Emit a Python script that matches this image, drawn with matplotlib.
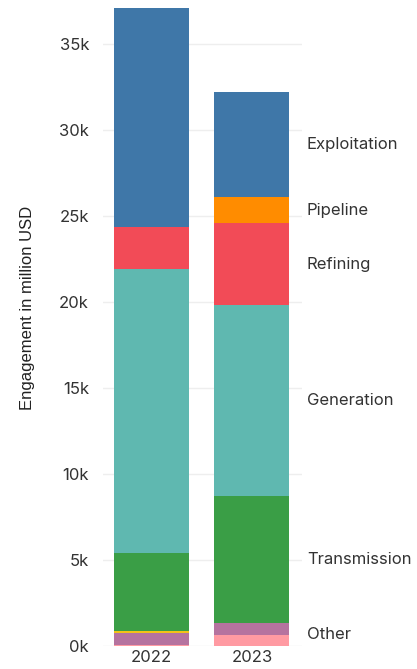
import numpy as np
import matplotlib.pyplot as plt
from matplotlib.ticker import FuncFormatter
import matplotlib.transforms as mtransforms

years = ["2022", "2023"]

# stacked bottom to top, values in million USD
segments = ["Other A", "Other B", "Other C", "Transmission",
            "Generation", "Refining", "Pipeline", "Exploitation"]
values_2022 = [50, 690, 150, 4500, 16500, 2440, 0, 12720]
values_2023 = [660, 700, 0, 7360, 11090, 4750, 1510, 6100]
colors = ["#ff9aa2", "#b5739f", "#f2c318", "#3a9e46",
          "#5fb8b0", "#f24b57", "#ff8c00", "#3f77a8"]

# names written next to the 2023 bar
side_labels = ["Exploitation", "Pipeline", "Refining", "Generation",
               "Transmission", "Other"]
other_group = ["Other A", "Other B", "Other C"]

data = np.array([values_2022, values_2023], dtype=float)

fig = plt.figure(figsize=(4.17, 6.69), dpi=100)
ax = fig.add_axes([0.247, 0.0344, 0.477, 0.9656])

x = np.arange(len(years))
bottom = np.zeros(len(years))
for i, name in enumerate(segments):
    ax.bar(x, data[:, i], bottom=bottom, width=0.746, color=colors[i],
           linewidth=0, zorder=2)
    bottom += data[:, i]

ax.set_xlim(-0.483, 1.4975)
ax.set_ylim(0, 37540)
ax.set_yticks(np.arange(0, 35001, 5000))
ax.yaxis.set_major_formatter(FuncFormatter(lambda v, p: f"{int(v/1000)}k"))
ax.set_xticks(x)
ax.set_xticklabels(years)

ax.grid(axis="y", color="#eeeeee", linewidth=1, zorder=0)
ax.tick_params(length=0, labelsize=12, labelcolor="#333333")
ax.tick_params(axis="y", pad=10)
ax.tick_params(axis="x", pad=3)
for lab in ax.get_xticklabels() + ax.get_yticklabels():
    lab.set_fontfamily("Inter")
for s in ax.spines.values():
    s.set_visible(False)

ax.set_ylabel("Engagement in million USD", fontsize=12,
              fontfamily="Liberation Sans", color="#222222")
ax.yaxis.set_label_coords(-0.342, 0.523)

# side labels at the middle of each 2023 segment
trans = mtransforms.blended_transform_factory(ax.transAxes, ax.transData)
cum = np.concatenate([[0], np.cumsum(data[1])])
mids = {}
for i, name in enumerate(segments):
    mids[name] = (cum[i] + cum[i + 1]) / 2
n_other = len(other_group)
mids["Other"] = cum[n_other] / 2
for name in side_labels:
    ax.text(1.025, mids[name], name, transform=trans, va="center", ha="left",
            fontsize=12, fontfamily="Inter", color="#333333")

fig.savefig("out.png", dpi=100)
